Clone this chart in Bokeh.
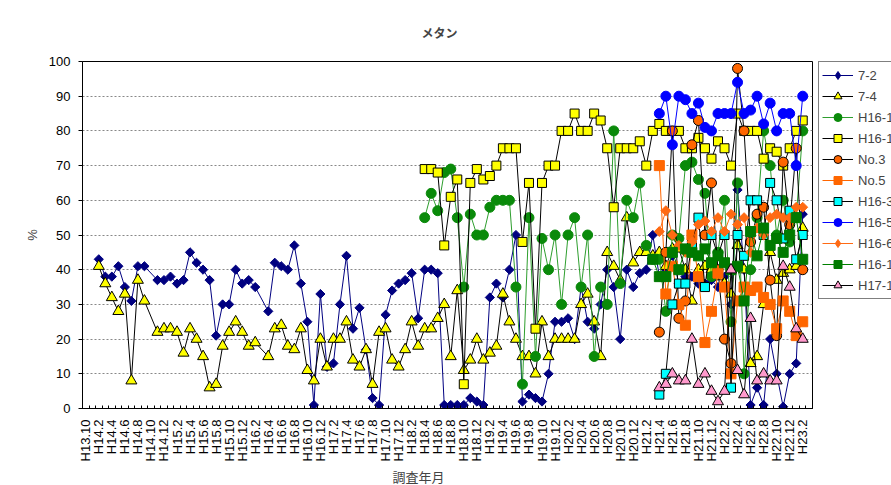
import math
from bokeh.plotting import figure
from bokeh.layouts import row
from bokeh.models import FixedTicker, Legend, LegendItem, Title, Range1d
from bokeh.embed import file_html
from bokeh.resources import INLINE

# ---- categories (survey year/month) ----
categories = [
    "H13.10", "H14.1",
    "H14.2", "H14.3", "H14.4", "H14.5", "H14.6", "H14.7", "H14.8", "H14.9", "H14.10", "H14.11", "H14.12",
    "H15.1", "H15.2", "H15.3", "H15.4", "H15.5", "H15.6", "H15.7", "H15.8", "H15.9", "H15.10", "H15.11", "H15.12",
    "H16.1", "H16.2", "H16.3", "H16.4", "H16.5", "H16.6", "H16.7", "H16.8", "H16.9", "H16.10", "H16.11", "H16.12",
    "H17.1", "H17.2", "H17.3", "H17.4", "H17.5", "H17.6", "H17.7", "H17.8", "H17.9", "H17.10", "H17.11", "H17.12",
    "H18.1", "H18.2", "H18.3", "H18.4", "H18.5", "H18.6", "H18.7", "H18.8", "H18.9", "H18.10", "H18.11", "H18.12",
    "H19.1", "H19.2", "H19.3", "H19.4", "H19.5", "H19.6", "H19.7", "H19.8", "H19.9", "H19.10", "H19.11", "H19.12",
    "H20.1", "H20.2", "H20.3", "H20.4", "H20.5", "H20.6", "H20.7", "H20.8", "H20.9", "H20.10", "H20.11", "H20.12",
    "H21.1", "H21.2", "H21.3", "H21.4", "H21.5", "H21.6", "H21.7", "H21.8", "H21.9", "H21.10", "H21.11", "H21.12",
    "H22.1", "H22.2", "H22.3", "H22.4", "H22.5", "H22.6", "H22.7", "H22.8", "H22.9", "H22.10", "H22.11", "H22.12",
    "H23.1", "H23.2", "H23.3",
]
tick_positions = list(range(0, 111, 2))

# ---- series values (% methane); each list starts at the given category index ----
s72_start = 2
s72 = [43, 38, 38, 41, 35, 31, 41, 41, None, 37, 37, 38, 36, 37, 45, 42, 40, 37, 21, 30, 30, 40, 36, 37, 35,
       None, 28, 42, 41, 40, 47, 36, 25, 1, 33, 12, 13, 30, 44, 23, 29, 17, 3, 1, 27, 34, 36, 37, 39, 26, 40, 40, 39,
       1, 1, 1, 1, 3, 2, 1, 32, 36, 32, 40, 50, 2, 4, 3, 2, 10, 25, 25, 26, 20, 35, 25, 23, 30, 40, 35, 20, 40, 35, 39, 40, 50, 38,
       40, 44, 36, 38, 38, 36, 36, 37, 35, 38, 30, 63, 40, 1, 6, 1, 20, 10, 0.5, 10, 13, 56]

s74_start = 2
s74 = [41, 36, 32, 28, 33, 8, 37, 31, None, 22, 23, 23, 22, 16, 23, 20, 15, 6, 7, 18, 22, 25, 22, 18, 19,
       None, 15, 23, 24, 18, 17, 23, 11, 8, 20, 12, 20, 20, 25, 14, 12, 17, 7, 22, 23, 14, 12, 17, 25, 18, 23, 23, 26,
       30, 15, 34, 11, 14, 20, 14, 16, 18, 33, 25, 20, 15, 15, 10, 25, 15, 20, 20, 20, 20, 30, 33, 25, 15, 45, 41, 37, 55, 42, 45, 45, 44, 45,
       41, 46, 46, 40, 31, 40, 41, 40, 38, 36, 33, 47, 40, 13, 15, 30, 45, 37, 39, 40, 41, 52]

h16a_start = 52
h16a = [55, 62, 57, 68, 69, 55, 35, 56, 50, 50, 58, 60, 60, 60, 35, 7, 55, 15, 49, 40, 50, 30, 50, 55, 35, 50, 15, 35, 30,
        80, 36, 60, 55, 65, 47, 43, 43, 28, 50, 49, 70, 71, 66, 62, 38, 45, 60, 25, 65, 10, 40, 55, 80, 70, 50, 60, 48, 55, 80]

h16b_start = 52
h16b = [69, 69, 68, 47, 61, 66, 7, 65, 69, 66, 67, 70, 75, 75, 75, 48, 65, 23, 65, 70, 70, 80, 80, 85, 80, 80, 85, 83, 75,
        58, 75, 75, 75, 77, 70, 80, 82, 80, 80, 80, 75, 75, 78, 75, 72, 77, 75, 70, 85, 80, 80, 80, 72, 75, 74, 70, 75, 80, 83]

no3_start = 88
no3 = [22, 45, 80, 26, 31, 76, 83, 50, 65, 40, 20, 13, 98, 80, 48, 56, 58, 37, 21, 71, 53, 75, 40]

no5_start = 88
no5 = [70, 33, 41, 30, 24, 50, 38, 19, 28, 39, 35, 10, 31, 35, 34, 35, 32, 30, 23, 31, 28, 21, 25]

h163_start = 88
h163 = [4, 10, 30, 36, 36, 47, 55, 35, 50, 44, 50, 6, 50, 44, 60, 60, 50, 65, 60, 49, 57, 43, 50]

h165_start = 88
h165 = [85, 90, 76, 90, 89, 85, 88, 81, 80, 85, 85, 85, 94, 85, 86, 90, 82, 88, 80, 85, 85, 70, 90]

h166_start = 88
h166 = [51, 57, 50, 47, 45, 48, 53, 54, 51, 55, 51, 56, 53, 55, 45, 52, 50, 55, 56, 55, 55, 58, 58]

h16c_start = 87
h16c = [43, 38, 38, 45, 40, 46, 45, 44, 46, 42, 44, 42, 40, 41, 31, 51, 44, 52, 47, 49, 45, 50, 55, 43]

h171_start = 88
h171 = [6, 7, 10, 8, 8, 20, 7, 10, 5, 2, 5, 40, 11, 4, 26, 8, 10, 8, 8, 41, 35, 23, 20]

series_names = ["7-2", "7-4", "H16-1", "H16-1", "No.3", "No.5", "H16-3", "H16-5", "H16-6", "H16-1", "H17-1"]
series_data = [(s72_start, s72), (s74_start, s74), (h16a_start, h16a), (h16b_start, h16b), (no3_start, no3),
               (no5_start, no5), (h163_start, h163), (h165_start, h165), (h166_start, h166),
               (h16c_start, h16c), (h171_start, h171)]

# marker, size, fill, marker outline, line colour, angle, legend marker, legend size
styles = [
    ("square", 6.5, "#000080", "#000080", "#000080", math.pi / 4, "diamond", 12),
    ("triangle", 11, "#FFFF00", "#000000", "#000000", 0, "triangle", 11),
    ("circle", 10, "#0A8A0A", "#0A8A0A", "#2E9E2E", 0, "circle", 10),
    ("square", 9, "#FFFF00", "#000000", "#000000", 0, "square", 9),
    ("circle", 10, "#FF6600", "#000000", "#000000", 0, "circle", 10),
    ("square", 10, "#FF6600", "#FF6600", "#FF6600", 0, "square", 10),
    ("square", 9, "#00FFFF", "#000000", "#000000", 0, "square", 9),
    ("circle", 10, "#0000FF", "#0000FF", "#0000FF", 0, "circle", 10),
    ("square", 7, "#FF6A13", "#FF6A13", "#FF6A13", math.pi / 4, "diamond", 12),
    ("square", 10, "#007A00", "#007A00", "#008000", 0, "square", 10),
    ("triangle", 11, "#FF99CC", "#000000", "#000000", 0, "triangle", 11),
]

H = 485
MAIN_W, LEG_W = 813, 78

p = figure(width=MAIN_W, height=H, output_backend="svg", toolbar_location=None,
           x_range=Range1d(-0.5, 111.5), y_range=Range1d(0, 100),
           min_border_left=82, min_border_right=1, min_border_top=61, min_border_bottom=77)
p.background_fill_color = "white"
p.border_fill_color = "white"
p.outline_line_color = "black"
p.outline_line_width = 1

p.title.text = "メタン"
p.title.text_font = "Noto Sans CJK JP"
p.title.text_font_size = "12px"
p.title.text_font_style = "bold"
p.title.align = "left"
p.title.offset = 339
p.title.standoff = 42

# x axis
xa = p.xaxis[0]
xa.ticker = FixedTicker(ticks=tick_positions, minor_ticks=[i - 0.5 for i in range(113)])
xa.major_label_overrides = {i: categories[i] for i in tick_positions}
xa.major_label_orientation = math.pi / 2
xa.major_label_text_font = "Liberation Sans"
xa.major_label_text_font_size = "13px"
xa.major_label_text_color = "black"
xa.major_label_standoff = 11
xa.major_tick_line_color = None
xa.major_tick_in = 0
xa.major_tick_out = 0
xa.minor_tick_in = 3
xa.minor_tick_out = 0
xa.minor_tick_line_color = "black"
xa.axis_line_color = "black"

xt = Title(text="調査年月", align="left", offset=310, text_font="Noto Sans CJK JP",
           text_font_size="13px", text_font_style="normal", standoff=0)
p.add_layout(xt, "below")

# y axis
ya = p.yaxis[0]
ya.ticker = FixedTicker(ticks=list(range(0, 101, 10)))
ya.minor_tick_line_color = None
ya.major_tick_out = 4
ya.major_tick_in = 0
ya.major_label_standoff = 8
ya.major_label_text_font = "Liberation Sans"
ya.major_label_text_font_size = "13px"
ya.major_label_text_color = "black"
ya.axis_label = "%"
ya.axis_label_text_font = "Liberation Sans"
ya.axis_label_text_font_size = "13px"
ya.axis_label_text_font_style = "normal"
ya.axis_label_standoff = 6
ya.axis_line_color = "black"

p.xgrid.visible = False
p.ygrid.grid_line_color = "#888888"
p.ygrid.grid_line_dash = "2 2"
p.ygrid.grid_line_width = 1

# legend panel: a bare figure whose frame is the whole panel
pl = figure(width=LEG_W, height=H, output_backend="svg", toolbar_location=None,
            x_range=Range1d(0, 1), y_range=Range1d(0, 1), x_axis_type=None, y_axis_type=None,
            min_border=0)
pl.outline_line_color = None
pl.grid.visible = False
pl.background_fill_color = "white"
pl.border_fill_color = "white"

items = []
for name, (start, vals), (mk, sz, fc, mc, lc, ang, lmk, lsz) in zip(series_names, series_data, styles):
    xs, ys = [], []
    for k, v in enumerate(vals):
        if v is not None:
            xs.append(start + k)
            ys.append(v)
    p.line(xs, ys, line_color=lc, line_width=1)
    p.scatter(xs, ys, marker=mk, size=sz, fill_color=fc, line_color=mc, line_width=1, angle=ang)
    # legend swatches: style only, their single point lies outside the visible range
    rl = pl.line([-5, -4], [-5, -4], line_color=lc, line_width=1)
    rp = pl.scatter([-5], [-5], marker=lmk, size=lsz, fill_color=fc, line_color=mc, line_width=1)
    items.append(LegendItem(label=name, renderers=[rl, rp]))

legend = Legend(items=items, location=(5, 109), orientation="vertical",
                glyph_width=31, glyph_height=20, label_height=20, spacing=1, padding=3, margin=0,
                label_standoff=5, label_text_font="Liberation Sans", label_text_font_size="13px",
                border_line_color="black", border_line_width=1, background_fill_color="white",
                background_fill_alpha=1)
pl.add_layout(legend, "center")

layout = row(p, pl, spacing=0)
open("out.html", "w").write(file_html(layout, INLINE))
